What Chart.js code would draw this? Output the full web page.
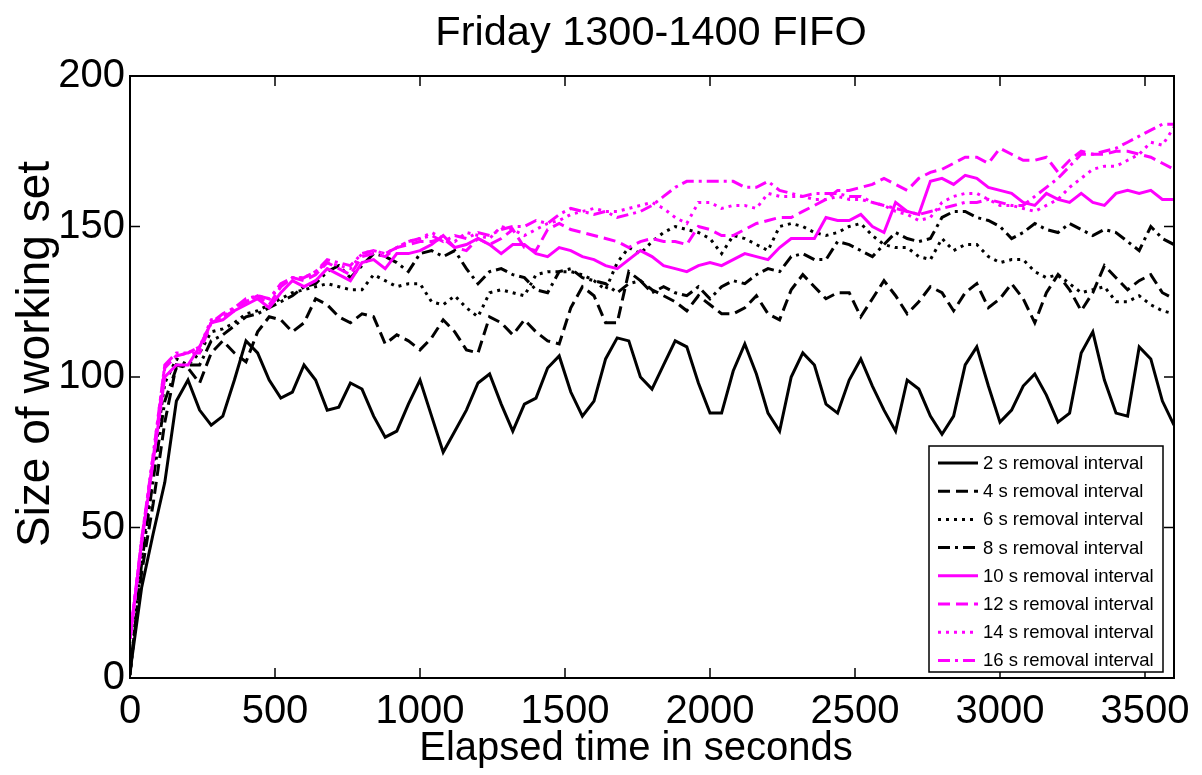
<!DOCTYPE html>
<html>
<head>
<meta charset="utf-8">
<title>Friday 1300-1400 FIFO</title>
<script src="https://cdn.jsdelivr.net/npm/chart.js@4.4.1/dist/chart.umd.min.js"></script>
<style>
  html, body { margin: 0; padding: 0; background: #fff; }
  #wrap { width: 1202px; height: 775px; }
</style>
</head>
<body>
<div id="wrap"><canvas id="chartCanvas" width="1202" height="775"></canvas></div>
<script>
// ===============================
// data (one value every 40 s)
// ===============================
const times = [
  0, 40, 80, 120, 160, 200, 240, 280, 320, 360,
  400, 440, 480, 520, 560, 600, 640, 680, 720, 760,
  800, 840, 880, 920, 960, 1000, 1040, 1080, 1120, 1160,
  1200, 1240, 1280, 1320, 1360, 1400, 1440, 1480, 1520, 1560,
  1600, 1640, 1680, 1720, 1760, 1800, 1840, 1880, 1920, 1960,
  2000, 2040, 2080, 2120, 2160, 2200, 2240, 2280, 2320, 2360,
  2400, 2440, 2480, 2520, 2560, 2600, 2640, 2680, 2720, 2760,
  2800, 2840, 2880, 2920, 2960, 3000, 3040, 3080, 3120, 3160,
  3200, 3240, 3280, 3320, 3360, 3400, 3440, 3480, 3520, 3560,
  3600
];

const xTickValues = [0, 500, 1000, 1500, 2000, 2500, 3000, 3500];
const yTickValues = [0, 50, 100, 150, 200];

const ws2 = [
  2, 30, 48, 65, 92, 99, 89, 84, 87, 99,
  112, 108, 99, 93, 95, 104, 99, 89, 90, 98,
  96, 87, 80, 82, 91, 99, 87, 75, 82, 89,
  98, 101, 91, 82, 91, 93, 103, 107, 95, 87,
  92, 106, 113, 112, 100, 96, 104, 112, 110, 98,
  88, 88, 102, 111, 101, 88, 82, 100, 108, 104,
  91, 88, 99, 106, 97, 89, 82, 99, 96, 87,
  81, 87, 104, 110, 97, 85, 89, 97, 101, 94,
  85, 88, 108, 115, 99, 88, 87, 110, 106, 92,
  84
];

const ws4 = [
  2, 35, 58, 85, 104, 103, 98, 108, 112, 108,
  105, 115, 120, 119, 115, 118, 126, 124, 120, 118,
  121, 120, 111, 114, 112, 109, 113, 119, 115, 109,
  108, 120, 118, 114, 119, 115, 112, 111, 123, 130,
  127, 118, 118, 135, 132, 129, 127, 125, 122, 127,
  124, 121, 121, 123, 127, 121, 119, 129, 134, 130,
  126, 128, 128, 120, 126, 132, 127, 121, 125, 130,
  128, 122, 128, 131, 123, 126, 131, 126, 118, 128,
  134, 129, 122, 128, 137, 133, 129, 132, 134, 128,
  126
];

const ws6 = [
  1, 40, 70, 98, 106, 104, 108, 115, 116, 118,
  121, 122, 124, 126, 128, 129, 130, 131, 130, 129,
  129, 134, 132, 130, 131, 131, 125, 124, 127, 123,
  120, 128, 129, 128, 127, 134, 135, 135, 135, 134,
  132, 129, 138, 143, 141, 145, 148, 150, 149, 148,
  146, 141, 147, 146, 144, 142, 150, 151, 150, 148,
  147, 148, 150, 151, 147, 144, 143, 143, 140, 139,
  146, 142, 144, 144, 140, 138, 139, 139, 135, 133,
  134, 131, 128, 129, 130, 125, 125, 127, 124, 122,
  121
];

const ws8 = [
  1, 38, 66, 92, 103, 104, 104, 112, 114, 117,
  120, 121, 123, 125, 127, 130, 131, 135, 137, 133,
  137, 141, 140, 138, 135, 141, 142, 140, 142, 136,
  131, 135, 136, 134, 133, 129, 128, 135, 136, 133,
  132, 131, 128, 131, 132, 128, 130, 128, 127, 130,
  126, 130, 132, 131, 134, 136, 135, 140, 141, 139,
  139, 145, 144, 142, 140, 144, 148, 146, 145, 146,
  153, 155, 155, 153, 152, 150, 146, 148, 151, 149,
  148, 151, 149, 147, 149, 148, 145, 142, 150, 146,
  144
];

const ws10 = [
  13, 45, 72, 100, 104, 104, 110, 118, 119, 122,
  124, 126, 123, 128, 132, 130, 132, 136, 134, 132,
  138, 139, 136, 141, 141, 142, 144, 147, 143, 144,
  146, 144, 141, 144, 144, 141, 140, 143, 142, 140,
  139, 137, 136, 139, 142, 140, 137, 136, 135, 137,
  138, 137, 139, 141, 140, 139, 143, 146, 146, 146,
  153, 152, 152, 154, 150, 148, 158, 155, 154, 165,
  166, 164, 167, 166, 163, 162, 161, 158, 157, 161,
  159, 158, 161, 158, 157, 161, 162, 161, 162, 159,
  159
];

const ws12 = [
  13, 45, 73, 103, 107, 108, 108, 118, 120, 122,
  125, 127, 124, 130, 133, 132, 134, 138, 136, 134,
  140, 141, 140, 143, 144, 145, 145, 146, 143, 142,
  146, 144, 146, 149, 143, 142, 149, 151, 149, 148,
  147, 146, 145, 143, 145, 146, 145, 145, 144, 150,
  149, 147, 147, 149, 151, 152, 153, 153, 155, 157,
  159, 162, 162, 163, 164, 166, 164, 162, 166, 168,
  169, 171, 173, 173, 171, 176, 174, 172, 172, 173,
  168, 172, 175, 174, 174, 175, 175, 174, 173, 171,
  169
];

const ws14 = [
  13, 46, 74, 104, 107, 108, 110, 119, 120, 123,
  125, 127, 126, 130, 133, 133, 135, 138, 137, 136,
  141, 142, 141, 143, 145, 146, 148, 146, 145, 148,
  147, 146, 150, 149, 147, 149, 151, 152, 154, 155,
  156, 155, 155, 156, 157, 158, 156, 153, 151, 158,
  158, 156, 157, 157, 156, 161, 160, 160, 160, 159,
  159, 160, 159, 159, 158, 157, 155, 154, 152, 153,
  158, 160, 161, 161, 159, 157, 157, 156, 155, 157,
  159, 163, 166, 169, 170, 170, 172, 174, 178, 177,
  183
];

const ws16 = [
  13, 46, 74, 104, 108, 108, 110, 118, 121, 123,
  126, 127, 126, 131, 133, 133, 135, 139, 138, 137,
  141, 142, 141, 143, 145, 146, 147, 145, 147, 146,
  148, 147, 149, 150, 150, 152, 151, 154, 156, 155,
  154, 155, 153, 154, 155, 157, 160, 163, 165, 165,
  165, 165, 165, 163, 163, 165, 162, 161, 160, 161,
  161, 161, 160, 160, 158, 157, 156, 155, 154, 155,
  156, 157, 158, 158, 159, 158, 157, 157, 160, 163,
  166, 170, 174, 174, 175, 176, 178, 180, 182, 184,
  184
];

const seriesValues = [ws2, ws4, ws6, ws8, ws10, ws12, ws14, ws16];
const seriesLabels = [
  "2 s removal interval", "4 s removal interval", "6 s removal interval", "8 s removal interval",
  "10 s removal interval", "12 s removal interval", "14 s removal interval", "16 s removal interval"
];

// ===============================
// styles
// ===============================
const FONT = "'Liberation Sans', Arial, Helvetica, sans-serif";
const BLACK = "#000000";
const MAGENTA = "#ff00ff";
const SOLID = [];
const DASH = [12, 6];
const DOT = [3, 5];
const DASHDOT = [12, 5, 3, 5];
const seriesColors = [BLACK, BLACK, BLACK, BLACK, MAGENTA, MAGENTA, MAGENTA, MAGENTA];
const seriesDashes = [SOLID, DASH, DOT, DASHDOT, SOLID, DASH, DOT, DASHDOT];

Chart.defaults.font.family = FONT;
Chart.defaults.color = BLACK;

const datasets = seriesValues.map((vals, k) => ({
  label: seriesLabels[k],
  data: times.map((t, i) => ({ x: t, y: vals[i] })),
  borderColor: seriesColors[k],
  backgroundColor: seriesColors[k],
  borderDash: seriesDashes[k],
  borderWidth: 3,
  pointRadius: 0,
  tension: 0,
  fill: false,
  order: seriesValues.length - k   // later series on top, like the original
}));

// ===============================
// box, inward ticks, titles, legend
// ===============================
const framePlugin = {
  id: "framePlugin",
  afterDatasetsDraw(chart) {
    const { ctx, chartArea: a, scales } = chart;
    ctx.save();
    ctx.strokeStyle = BLACK;
    ctx.lineWidth = 2;
    ctx.strokeRect(a.left, a.top, a.right - a.left, a.bottom - a.top);

    ctx.lineWidth = 1.5;
    ctx.beginPath();
    xTickValues.forEach(v => {
      const x = scales.x.getPixelForValue(v);
      ctx.moveTo(x, a.bottom); ctx.lineTo(x, a.bottom - 10);
      ctx.moveTo(x, a.top); ctx.lineTo(x, a.top + 10);
    });
    yTickValues.forEach(v => {
      const y = scales.y.getPixelForValue(v);
      ctx.moveTo(a.left, y); ctx.lineTo(a.left + 10, y);
      ctx.moveTo(a.right, y); ctx.lineTo(a.right - 10, y);
    });
    ctx.stroke();
    ctx.restore();
  },
  afterDraw(chart) {
    const { ctx, chartArea: a } = chart;
    ctx.save();
    ctx.fillStyle = BLACK;
    ctx.textAlign = "center";
    ctx.textBaseline = "alphabetic";

    // titles
    ctx.font = "41.5px " + FONT;
    ctx.fillText("Friday 1300-1400 FIFO", 651, 45);
    ctx.font = "40px " + FONT;
    ctx.fillText("Elapsed time in seconds", 636, 760);

    ctx.save();
    ctx.font = "46px " + FONT;
    ctx.translate(49, 354);
    ctx.rotate(-Math.PI / 2);
    ctx.fillText("Size of working set", 0, 0);
    ctx.restore();

    // legend box in the lower right corner
    const bx = a.right - 245, by = a.bottom - 232;
    const bw = 234, bh = 226;
    ctx.fillStyle = "#ffffff";
    ctx.fillRect(bx, by, bw, bh);
    ctx.strokeStyle = BLACK;
    ctx.lineWidth = 1.5;
    ctx.strokeRect(bx, by, bw, bh);

    ctx.font = "18.5px " + FONT;
    ctx.textAlign = "left";
    ctx.textBaseline = "middle";
    chart.data.datasets.forEach((ds, k) => {
      const y = by + 17 + k * 28.2;
      ctx.beginPath();
      ctx.strokeStyle = ds.borderColor;
      ctx.lineWidth = ds.borderWidth;
      ctx.setLineDash(ds.borderDash);
      ctx.moveTo(bx + 9, y);
      ctx.lineTo(bx + 49, y);
      ctx.stroke();
      ctx.setLineDash([]);
      ctx.fillStyle = BLACK;
      ctx.fillText(ds.label, bx + 54, y + 1);
    });
    ctx.restore();
  }
};

// ===============================
// chart
// ===============================
const ctx = document.getElementById("chartCanvas").getContext("2d");

new Chart(ctx, {
  type: "line",
  data: { datasets },
  options: {
    responsive: false,
    maintainAspectRatio: false,
    animation: false,
    devicePixelRatio: 1,
    layout: { padding: { top: 76, right: 28, bottom: 0, left: 0 } },
    plugins: {
      legend: { display: false },
      title: { display: false },
      tooltip: { enabled: false }
    },
    scales: {
      x: {
        type: "linear",
        min: 0,
        max: 3600,
        afterBuildTicks: s => { s.ticks = xTickValues.map(v => ({ value: v })); },
        afterFit: s => { s.height = 97; },
        grid: { display: false, drawTicks: false },
        border: { display: false },
        ticks: { font: { size: 40 }, color: BLACK, padding: 10, maxRotation: 0, callback: v => String(v) }
      },
      y: {
        type: "linear",
        min: 0,
        max: 200,
        afterBuildTicks: s => { s.ticks = yTickValues.map(v => ({ value: v })); },
        afterFit: s => { s.width = 130; },
        grid: { display: false, drawTicks: false },
        border: { display: false },
        ticks: { font: { size: 40 }, color: BLACK, padding: 5, callback: v => String(v) }
      }
    }
  },
  plugins: [framePlugin]
});
</script>
</body>
</html>
